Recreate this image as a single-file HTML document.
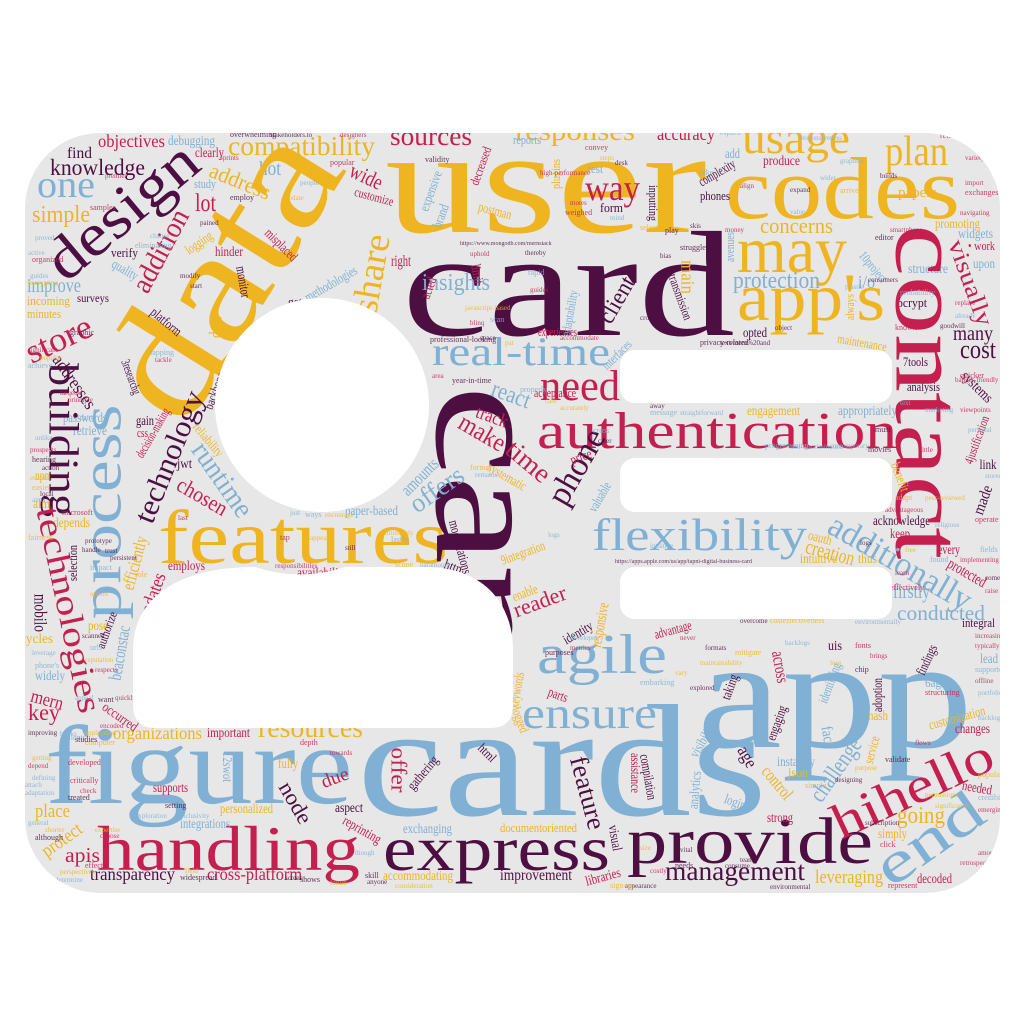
<!DOCTYPE html>
<html><head><meta charset="utf-8"><title>Word cloud</title>
<style>
html,body{margin:0;padding:0;background:#fff;}
svg{display:block;}
text{font-family:"Liberation Serif",serif;}
</style></head>
<body>
<svg id="cloud" width="1024" height="1024" viewBox="0 0 1024 1024" xmlns="http://www.w3.org/2000/svg">
<defs><clipPath id="shapeClip"><rect x="25" y="133" width="975" height="760" rx="75"/></clipPath></defs>
<rect x="25" y="133" width="975" height="760" rx="75" fill="#e7e7e7"/>
<g id="words" clip-path="url(#shapeClip)"></g>
<g fill="#ffffff">
<circle cx="322" cy="405" r="107"/>
<path d="M133,705 L133,650 C133,600 175,567 255,567 Q300,582 345,567 L425,567 C485,567 513,605 513,650 L513,705 Q513,728 490,728 L156,728 Q133,728 133,705 Z"/>
<rect x="620" y="350" width="272" height="53" rx="15"/>
<rect x="620" y="458" width="272" height="54" rx="15"/>
<rect x="620" y="567" width="272" height="52" rx="15"/>
</g>
</svg>
<script>
var C={y:"#efb521",p:"#4d0f41",r:"#c41f4f",b:"#80b0d3"};
// horizontal words: text, startX, baselineY, length, color, size
var hWords=[
["user",385,232,322,"y",150],["card",402,335,333,"p",150],["codes",725,218,235,"y",88],
["app",697,747,276,"b",158],["cards",357,815,410,"b",160],["figure",45,803,308,"b",112],
["handling",97,870,263,"r",64],["express",383,870,227,"p",64],["provide",627,863,246,"p",66],
["authentication",537,448,360,"r",52],["features",158,563,290,"y",76],["flexibility",592,550,215,"b",46],
["agile",537,673,130,"b",56],["ensure",522,728,135,"b",44],["real-time",432,365,178,"b",40],
["may",737,272,110,"y",66],["app's",737,320,148,"y",68],["usage",742,153,108,"y",46],
["plan",885,165,63,"y",42],["need",540,400,80,"r",43],["protection",733,288,87,"b",24],
["concerns",760,233,73,"y",22],["insights",422,290,68,"b",24],["sources",390,145,82,"r",27],
["responses",515,140,120,"y",28],["accuracy",657,140,58,"r",19],["compatibility",228,155,147,"y",27],
["objectives",98,147,67,"r",18],["debugging",168,145,47,"b",14],["find",67,158,25,"p",16],
["knowledge",50,175,95,"p",23],["one",37,197,58,"b",38],["simple",32,222,58,"y",24],
["lot",195,211,21,"r",25],["hot",259,175,22,"b",20],["study",194,188,22,"b",13],
["clearly",195,157,29,"r",14],["verify",111,257,27,"p",13],["improve",27,292,54,"b",20],
["incoming",27,305,43,"y",13],["surveys",77,302,32,"p",12],["minutes",27,318,34,"y",13],
["way",585,200,55,"r",36],["test",588,173,15,"b",13],["form",600,212,23,"p",13],
["add",725,158,15,"b",14],["produce",763,165,37,"r",14],["phones",700,200,30,"p",13],
["papers",898,197,39,"y",15],["promoting",935,228,45,"y",14],["widgets",958,238,35,"b",14],
["• work",968,250,27,"r",13],["upon",973,268,22,"b",14],["structure",908,273,40,"b",14],
["bcrypt",897,307,30,"p",13],["i/o",858,288,17,"b",18],["opted",743,337,24,"p",14],
["many",953,340,40,"p",20],["cost",960,358,36,"p",26],["7tools",903,366,25,"p",13],
["analysis",907,391,33,"p",13],["engagement",747,415,53,"y",14],["appropriately",838,415,59,"b",14],
["acknowledge",873,525,57,"p",14],["keep",890,538,20,"r",14],["intuitive",800,563,37,"y",14],
["thus",858,563,19,"y",14],["firstly",893,598,37,"b",21],["conducted",897,620,88,"b",21],
["integral",962,627,33,"p",13],["lead",980,663,18,"b",14],["6agile",925,687,27,"b",13],
["hash",868,720,20,"y",14],["changes",955,733,35,"r",14],["instantly",777,766,38,"b",14],
["json",788,777,20,"y",14],["uis",828,650,14,"p",14],["strong",767,822,26,"r",14],
["going",897,823,48,"y",24],["simply",878,838,29,"y",14],["management",665,880,140,"p",27],
["leveraging",815,883,68,"y",19],["decoded",917,883,35,"r",14],["improvement",500,880,72,"p",16],
["documentoriented",500,832,77,"y",13],["exchanging",403,833,49,"b",14],["aspect",335,812,28,"p",14],
["accommodating",383,880,70,"y",14],["cross-platform",207,880,95,"r",18],["transparency",90,880,85,"p",18],
["apis",65,862,35,"r",21],["place",35,817,35,"y",19],["supports",153,792,35,"r",14],
["personalized",220,813,53,"y",14],["integrations",180,828,50,"b",14],["fully",278,768,20,"y",14],
["organizations",113,739,89,"y",18],["important",207,737,43,"r",14],["resources",258,737,105,"y",29],
["key",28,720,32,"r",23],["widely",35,680,30,"b",14],["cycles",20,643,33,"y",14],
["employs",168,570,37,"r",14],["availability",297,577,50,"r",14],["paper-based",345,515,53,"b",14],
["jwt",177,468,15,"p",14],["gain",136,425,18,"p",14],["css",137,437,11,"r",13],
["retrieve",73,435,34,"b",14],["npm",35,480,17,"y",14],["aim",33,508,17,"y",14],
["depends",53,527,37,"y",14],["pose",88,630,20,"y",14],["passwords",63,422,44,"b",14],
["right",391,266,20,"r",16],["experiences",538,336,39,"r",13],["acceptance",534,397,42,"r",13],
["reports",513,144,28,"b",13],["get",288,306,14,"p",13],["hinder",215,256,28,"r",14]
];
// rotated words: text, centerX, centerY, angle, length, color, size
var rWords=[
["data",225,275,-58,310,"y",160],["can",485,525,90,280,"p",160],["contact",925,392,90,335,"r",95],
["design",123,212,-40,180,"p",60],["process",103,512,-90,215,"b",58],["building",62,440,90,154,"p",42],
["technologies",68,610,78,210,"r",34],["technology",170,457,-68,140,"p",30],["addition",161,251,-62,90,"r",29],
["address",240,182,22,64,"y",22],["wide",366,177,25,34,"r",22],["customize",374,197,15,40,"r",13],
["share",372,274,-80,80,"y",37],["store",59,340,-25,70,"r",34],["addresses",74,382,55,62,"p",18],
["quality",125,270,30,28,"b",14],["logging",199,243,-35,30,"y",14],["platform",166,322,40,36,"p",14],
["date",216,327,-90,22,"y",18],["misplaced",281,245,45,40,"r",14],["monitor",243,282,80,32,"p",14],
["methodologies",331,284,-30,58,"b",14],["expensive",431,191,-70,42,"b",14],["brand",441,216,-70,24,"b",14],
["decreased",481,166,-70,40,"r",13],["postman",495,211,15,34,"y",14],["plugins",556,174,-90,30,"y",13],
["limit",477,274,80,20,"r",14],["acted",429,288,-70,22,"r",14],["adaptability",570,313,-80,46,"b",13],
["react",511,395,20,40,"b",24],["backbone",215,391,-70,38,"p",13],["3researchg",131,377,70,36,"p",13],
["runtime",222,480,55,85,"b",29],["chosen",202,497,30,55,"r",22],["reliability",208,440,50,40,"y",13],
["decision-making",153,433,-60,55,"r",13],["efficiently",135,563,-75,55,"y",18],["updates",152,597,-70,50,"r",19],
["beaconstac",120,653,-80,55,"b",18],["mobilo",40,613,90,38,"p",18],["selection",73,563,-90,36,"p",13],
["authorize",107,630,-70,38,"p",13],["amounts",420,477,-45,45,"b",18],["offers",437,490,-35,60,"b",27],
["modifications",460,547,75,55,"p",14],["http",453,567,20,18,"p",14],["make",482,433,30,50,"r",26],
["track",492,417,20,33,"r",19],["time",528,462,40,50,"r",27],["systematic",507,477,30,42,"y",14],
["phone",577,467,-60,82,"p",34],["price",581,457,-20,22,"r",14],["valuable",600,497,-60,32,"b",14],
["9integration",523,553,-20,46,"y",14],["enable",525,593,-20,26,"y",14],["reader",540,602,-20,55,"r",22],
["responsive",600,625,-80,45,"y",16],["identity",578,633,-30,32,"p",14],["advantage",673,630,-15,38,"r",14],
["keywords",517,690,-80,36,"y",14],["logged",520,720,70,26,"y",14],["parts",558,695,20,20,"r",14],
["feature",587,793,75,75,"p",26],["visual",615,838,80,26,"p",14],["assistance",635,773,90,40,"r",14],
["compilation",648,777,80,46,"p",14],["analytics",695,790,-85,38,"b",14],["visibility",703,740,-60,38,"b",14],
["taking",730,687,-70,26,"p",14],["across",780,667,80,32,"r",18],["engaging",777,723,-70,36,"p",14],
["age",747,757,60,22,"p",18],["control",777,783,50,38,"y",18],["logins",737,803,20,26,"b",14],
["identifying",830,683,-70,42,"b",14],["face",828,737,80,22,"b",16],["challenge",836,770,-55,72,"b",24],
["service",872,750,-75,28,"y",14],["adoption",878,695,-90,34,"p",14],["findings",927,660,-65,32,"p",14],
["customization",957,718,-15,58,"y",14],["needed",977,788,10,30,"r",14],["hihello",913,790,-25,173,"r",50],
["end",930,840,-35,120,"b",58],["libraries",603,877,-15,36,"r",14],["additionally",900,563,30,160,"b",34],
["creation",830,553,15,50,"y",21],["oauth",820,538,15,24,"y",14],["protected",967,573,30,42,"r",16],
["every",949,550,0,22,"r",14],["systems",977,387,45,38,"p",15],["made",983,500,-70,30,"p",16],
["4justification",977,440,-70,50,"r",13],["link",988,465,0,17,"p",14],["benefit",900,477,70,30,"y",14],
["visually",970,283,70,90,"r",24],["10project",873,267,50,36,"b",13],["always",850,307,-90,26,"y",13],
["maintenance",862,343,10,50,"y",13],["main",687,277,90,34,"y",19],["transmission",680,297,70,48,"p",13],
["client",617,300,-60,50,"p",24],["avenues",730,247,-90,30,"b",13],["complexity",717,173,-30,40,"p",14],
["inputting",653,203,90,36,"p",13],["interfaces",617,355,-45,36,"b",13],["mern",47,700,15,33,"r",19],
["occurred",120,717,35,40,"r",14],["protect",62,840,-35,45,"y",19],["node",295,803,60,45,"p",22],
["due",335,778,-20,28,"r",19],["offer",398,770,90,45,"r",22],["12swot",227,767,90,30,"b",14],
["gathering",423,773,-50,40,"p",14],["html",487,753,45,20,"p",13],["reprinting",362,830,30,42,"r",14]
];
// small filler words: text, x, y, color
var tinyWords=[
["overwhelming",230,137,"p"],["stakeholders.to",270,137,"p"],["designers",340,137,"r"],["validity",425,162,"p"],
["people",300,185,"b"],["update",285,200,"y"],["employ",230,200,"p"],["pained",200,225,"p"],["chance",150,238,"b"],
["eliminating",135,248,"b"],["proved",35,240,"b"],["active",28,255,"b"],["organized",32,262,"r"],["guides",30,278,"b"],
["encrypting",28,285,"y"],["samples",90,210,"r"],["premier",105,178,"r"],["sprints",220,160,"r"],["popular",330,165,"r"],
["modify",180,278,"p"],["start",190,288,"p"],["tapping",150,355,"b"],["tackle",155,362,"r"],["quick",162,333,"y"],
["graphic",70,335,"p"],["significant",28,352,"r"],["popular",40,360,"y"],["achieve",28,368,"b"],["principle",68,402,"r"],
["tarqeted",60,395,"r"],["draw",80,420,"b"],["unlike",35,440,"b"],["prospects",30,452,"r"],["hearing",32,462,"p"],
["action",42,470,"p"],["enable",30,480,"y"],["easier",32,490,"y"],["local",40,496,"p"],["aims",32,502,"b"],
["microsoft",62,515,"r"],["prototype",85,543,"p"],["handle",82,552,"p"],["impact",90,570,"b"],["persistent",110,560,"p"],
["trust",105,553,"p"],["role",135,577,"y"],["option",90,596,"y"],["scanned",82,638,"p"],["urls",90,650,"b"],
["leverage",32,655,"b"],["reputation",85,662,"y"],["phone's",35,668,"b"],["respects",95,672,"r"],["appeal",75,700,"b"],
["want",98,702,"p"],["quickly",115,700,"r"],["improving",28,735,"p"],["clients",65,740,"b"],["application",85,735,"y"],
["encoded",100,728,"r"],["computer",85,745,"y"],["getting",32,760,"y"],["depend",28,768,"r"],["developed",68,765,"r"],
["defining",32,780,"b"],["attach",25,787,"b"],["critically",70,783,"r"],["adaptation",25,795,"b"],["check",80,793,"r"],
["treated",68,800,"p"],["general",28,825,"b"],["shorter",45,832,"y"],["although",35,840,"p"],["expertise",95,832,"y"],
["choose",100,838,"r"],["effects",85,868,"r"],["perspectives",60,874,"y"],["determine",55,882,"b"],["widespread",180,880,"p"],
["field",185,873,"y"],["screen",285,880,"p"],["shows",300,882,"p"],["forum",330,885,"y"],["though",355,855,"b"],
["skill",365,878,"p"],["anyone",367,884,"p"],["consideration",395,888,"y"],["setting",165,808,"p"],["exploration",135,818,"b"],
["inclusivity",180,818,"b"],["studies",75,742,"p"],["books",60,736,"b"],["towards",330,755,"r"],["depth",300,745,"r"],
["developer",570,640,"b"],["metrics",570,650,"r"],["purposes",545,655,"p"],["never",680,640,"r"],["formats",705,650,"p"],
["mitigate",735,655,"y"],["maintainability",700,665,"y"],["vary",675,675,"y"],["embarking",640,685,"b"],["explored",690,690,"p"],
["backlogs",785,645,"b"],["fonts",855,648,"r"],["brings",870,658,"r"],["lose",830,665,"y"],["chip",855,672,"p"],
["typically",975,648,"r"],["increasing",975,638,"r"],["supported",975,672,"b"],["offline",975,683,"r"],["portfolio",978,695,"b"],
["structuring",925,695,"r"],["backlogs",978,720,"b"],["flows",915,745,"r"],["validate",885,762,"p"],["purpose",855,770,"y"],
["designing",835,782,"p"],["popularity",978,777,"y"],["permissions",925,797,"y"],["significantly",935,808,"y"],["credibility",978,800,"b"],
["emerging",978,812,"r"],["subscription",865,825,"p"],["click",880,847,"r"],["amount",978,855,"r"],["retrospective",960,865,"r"],
["represent",888,888,"r"],["environmental",770,889,"p"],["costly",650,873,"r"],["needs",675,868,"p"],["consume",725,868,"p"],
["appearance",625,888,"p"],["sign-up",610,888,"y"],["vital",680,852,"p"],["size",640,850,"y"],["simple",805,788,"y"],
["team",740,862,"p"],["overcome",740,623,"p"],["costeffectiveness",770,623,"y"],["environmentally",855,624,"b"],
["text-mern%20and",720,345,"p"],["https://www.mongodb.com/mernstack",460,245,"p"],["builds",880,178,"p"],
["smartphone",890,232,"r"],["editor",875,240,"p"],["consumers",868,282,"p"],["plastic",845,289,"b"],["probability",900,295,"b"],
["replace",955,305,"r"],["already",955,318,"b"],["known",895,330,"r"],["goodwill",940,328,"p"],["badger-friendly",955,382,"r"],
["quicker",960,378,"r"],["text",900,405,"b"],["marketing",925,412,"b"],["must",875,432,"p"],["viewpoints",960,412,"r"],
["personal",968,432,"b"],["movies",868,452,"p"],["little",920,452,"r"],["contemporary",830,448,"b"],["programming",765,448,"b"],
["non-discrimination",790,449,"b"],["straightforward",680,415,"b"],["message",650,415,"b"],["away",650,408,"p"],
["peer-reviewed",925,500,"y"],["adapt",895,500,"y"],["advantageous",885,512,"r"],["religious",935,527,"b"],["operate",975,522,"r"],
["logs",860,545,"p"],["free",905,552,"y"],["found",930,562,"b"],["implementing",960,562,"r"],["learn",895,575,"r"],
["effectively",890,590,"r"],["comes",985,580,"p"],["raise",985,593,"r"],["fields",980,552,"b"],["stored",985,478,"b"],
["https://apps.apple.com/us/app/tapni-digital-business-card",615,563,"p"],["video",660,130,"r"],["explicit",720,135,"b"],
["responsiveness",800,140,"b"],["relates",940,138,"r"],["variety",965,160,"r"],["import",965,185,"r"],["exchanges",965,195,"r"],
["navigating",960,215,"r"],["graphics",840,163,"b"],["take",700,175,"b"],["wider",820,180,"b"],["expand",790,192,"p"],
["arrive",840,193,"y"],["align",740,188,"r"],["value",790,214,"b"],["play",665,233,"p"],["money",725,232,"r"],["skis",690,228,"p"],
["struggle",680,250,"p"],["bias",660,258,"p"],["cross",640,320,"p"],["privacy-related",700,345,"p"],["object",775,330,"p"],
["mind",610,220,"b"],["select",640,230,"y"],["desk",615,165,"p"],["steps",600,160,"y"],["convey",585,150,"r"],
["high-performance",540,175,"r"],["motes",570,205,"r"],["weighed",565,215,"r"],["uphold",470,256,"r"],["thereby",525,255,"p"],
["rapid",528,275,"b"],["guides",530,292,"r"],["javascript-based",465,310,"y"],["scan",490,322,"b"],["blinq",470,325,"r"],
["space",480,340,"p"],["professional-looking",430,342,"p"],["pat",505,345,"y"],["accommodate",560,340,"r"],["properly",520,392,"b"],
["care",545,403,"y"],["accurately",560,410,"y"],["cross",593,433,"b"],["cater",598,443,"p"],["area",432,378,"r"],["year-in-time",452,383,"p"],
["intuitive",650,548,"b"],["logs",548,537,"b"],["formal",470,470,"y"],["remains",475,477,"b"],["analyze",625,487,"y"],
["lastly",391,542,"b"],["ultimately",385,535,"y"],["still",345,550,"p"],["scope",395,567,"y"],["paramount",420,567,"b"],
["responsibilities",275,568,"r"],["tap",280,540,"r"],["appear",310,540,"y"],["just",290,515,"b"],["ways",305,517,"b"],
["encourage",325,517,"y"],["last",178,520,"r"],["fairness",28,540,"y"]
];
var g=document.getElementById('words');
var NS='http://www.w3.org/2000/svg';
hWords.forEach(function(w){
  var t=document.createElementNS(NS,'text');
  
  
  t.setAttribute('x',w[1]);t.setAttribute('y',w[2]);
  t.setAttribute('font-size',w[5]);t.setAttribute('fill',C[w[4]]);
  t.setAttribute('textLength',w[3]);t.setAttribute('lengthAdjust','spacingAndGlyphs');
  t.textContent=w[0];g.appendChild(t);
});
rWords.forEach(function(w){
  var t=document.createElementNS(NS,'text');
  
  
  t.setAttribute('transform','translate('+w[1]+','+w[2]+') rotate('+w[3]+')');
  t.setAttribute('text-anchor','middle');t.setAttribute('dy','0.3em');
  t.setAttribute('font-size',w[6]);t.setAttribute('fill',C[w[5]]);
  t.setAttribute('textLength',w[4]);t.setAttribute('lengthAdjust','spacingAndGlyphs');
  t.textContent=w[0];g.appendChild(t);
});
tinyWords.forEach(function(w,i){
  var t=document.createElementNS(NS,'text');
  
  
  t.setAttribute('x',w[1]);t.setAttribute('y',w[2]);
  t.setAttribute('font-size',w[0].length>20?6:(i%3===0?8:7));
  t.setAttribute('fill',C[w[3]]);t.setAttribute('opacity','0.85');
  t.textContent=w[0];g.appendChild(t);
});
</script>
</body></html>
